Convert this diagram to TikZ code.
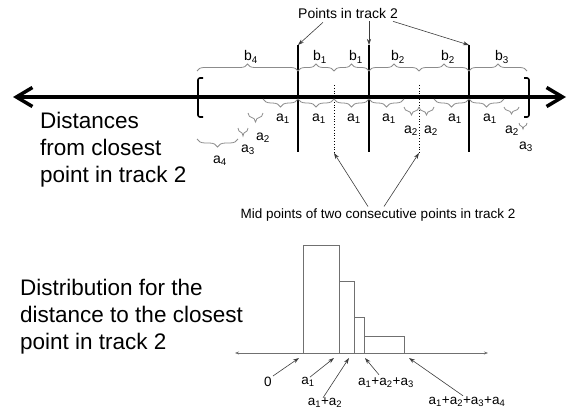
\documentclass[tikz,border=0pt]{standalone}
\usepackage{fontspec}
\setmainfont{Liberation Sans}
\usetikzlibrary{arrows.meta,calc,decorations.pathreplacing}
\definecolor{ink}{HTML}{000000}
\definecolor{bracegray}{HTML}{8C8C8C}
\definecolor{arrgray}{HTML}{3C3C3C}
\definecolor{histgray}{HTML}{707070}
\tikzset{
  bigtext/.style={font=\fontsize{22.5}{27}\selectfont,align=left,anchor=base west,
                  inner sep=0pt,text=ink},
  lbl/.style={font=\fontsize{14}{16}\selectfont,inner sep=1pt,text=ink},
  note/.style={font=\fontsize{13.5}{15}\selectfont,inner sep=1pt,text=ink},
  upbrc/.style={decorate,decoration={brace,amplitude=#1},draw=bracegray,
                line width=0.8pt},
  upbrc/.default=7pt,
  dnbrc/.style={decorate,decoration={brace,mirror,amplitude=#1},draw=bracegray,
                line width=0.8pt},
  dnbrc/.default=8pt,
  bracket/.style={draw=ink,line width=1.6pt,rounded corners=2pt},
  mainaxis/.style={{Straight Barb[length=16pt,width=19pt]}-{Straight Barb[length=16pt,width=19pt]},
                   line width=3.5pt,draw=ink},
  trackline/.style={draw=ink,line width=1.2pt},
  midline/.style={draw=ink,line width=0.8pt,dotted},
  ptarr/.style={-{Stealth[length=6pt,width=4pt]},line width=0.6pt,draw=arrgray},
  histline/.style={draw=histgray,line width=0.8pt},
  histaxis/.style={{Stealth[length=4pt,width=3pt]}-{Stealth[length=4pt,width=3pt]},
                   line width=0.7pt,draw=histgray}
}

\begin{document}
\begin{tikzpicture}[x=1pt,y=-1pt]
    \useasboundingbox (0,0) rectangle (568,415);

    % main line
    \coordinate (mL) at (13,97);
    \coordinate (mR) at (566,97);
    \draw[mainaxis] (mL) -- (mR);

    % points in track 2 and mid points
    \coordinate (p1t) at (298,45);  \coordinate (p1b) at (298,152);
    \coordinate (p2t) at (369,45);  \coordinate (p2b) at (369,152);
    \coordinate (p3t) at (469,45);  \coordinate (p3b) at (469,152);
    \coordinate (m1t) at (334,85);  \coordinate (m1b) at (334,153);
    \coordinate (m2t) at (419,85);  \coordinate (m2b) at (419,153);
    \draw[trackline] (p1t) -- (p1b);
    \draw[trackline] (p2t) -- (p2b);
    \draw[trackline] (p3t) -- (p3b);
    \draw[midline] (m1t) -- (m1b);
    \draw[midline] (m2t) -- (m2b);

    \draw[bracket] (203,78) -- (198,78) -- (198,117) -- (203,117);
    \draw[bracket] (524,78) -- (529,78) -- (529,117) -- (524,117);

    % upper braces
    \draw[upbrc] (197,71) -- (298,71);
    \draw[upbrc] (298,71) -- (334,71);
    \draw[upbrc] (334,71) -- (369,71);
    \draw[upbrc] (369,71) -- (419,71);
    \draw[upbrc] (419,71) -- (469,71);
    \draw[upbrc] (469,71) -- (527,71);
    \node[lbl] (b4) at (251,57) {b\textsubscript{4}};
    \node[lbl] (b1l) at (320,57) {b\textsubscript{1}};
    \node[lbl] (b1r) at (356,57) {b\textsubscript{1}};
    \node[lbl] (b2l) at (398,57) {b\textsubscript{2}};
    \node[lbl] (b2r) at (448,57) {b\textsubscript{2}};
    \node[lbl] (b3) at (502,57) {b\textsubscript{3}};

    % lower braces
    \draw[dnbrc] (263,99) -- (298,99);
    \draw[dnbrc] (298,99) -- (334,99);
    \draw[dnbrc] (334,99) -- (369,99);
    \draw[dnbrc] (369,99) -- (404,99);
    \draw[dnbrc] (404,107) -- (419,107);
    \draw[dnbrc] (419,107) -- (434,107);
    \draw[dnbrc] (434,99) -- (469,99);
    \draw[dnbrc] (469,99) -- (504,99);
    \draw[dnbrc=7pt] (504,107) -- (519,107);
    \draw[dnbrc=6pt] (519,123) -- (527,123);
    \draw[dnbrc=9pt] (248,113) -- (263,113);
    \draw[dnbrc] (238,128) -- (248,128);
    \draw[dnbrc] (197,139) -- (238,139);
    \node[lbl] (a1a) at (283,119) {a\textsubscript{1}};
    \node[lbl] (a1b) at (319,119) {a\textsubscript{1}};
    \node[lbl] (a1c) at (354,119) {a\textsubscript{1}};
    \node[lbl] (a1d) at (389,119) {a\textsubscript{1}};
    \node[lbl] (a2a) at (411,131) {a\textsubscript{2}};
    \node[lbl] (a2b) at (431,131) {a\textsubscript{2}};
    \node[lbl] (a1e) at (455,119) {a\textsubscript{1}};
    \node[lbl] (a1f) at (490,119) {a\textsubscript{1}};
    \node[lbl] (a2c) at (512,131) {a\textsubscript{2}};
    \node[lbl] (a3r) at (526,147) {a\textsubscript{3}};
    \node[lbl] (a2l) at (263,138) {a\textsubscript{2}};
    \node[lbl] (a3l) at (248,150) {a\textsubscript{3}};
    \node[lbl] (a4l) at (220,161) {a\textsubscript{4}};

    % labels with arrows
    \node[lbl] (ptlbl) at (348,13) {Points in track 2};
    \draw[ptarr] ($(ptlbl.south)+(-25,3)$) -- (p1t);
    \draw[ptarr] ($(ptlbl.south)+(21,2)$) -- (p2t);
    \draw[ptarr] ($(ptlbl.south)+(45,2)$) -- (p3t);
    \node[note] (midlbl) at (378,215) {Mid points of two consecutive points in track 2};
    \draw[ptarr] ($(midlbl.north)+(-10,-1)$) -- (m1b);
    \draw[ptarr] ($(midlbl.north)+(6,-1)$) -- (m2b);

    \node[bigtext] (dist) at (40,182) {Distances\\from closest\\point in track 2};

    % distribution
    \node[bigtext] (distr) at (20,349) {Distribution for the\\distance to the closest\\point in track 2};
    \coordinate (hL) at (235,353);
    \coordinate (hR) at (488,353);
    \draw[histaxis] (hL) -- (hR);
    \draw[histline] (303,353) rectangle (339,245);
    \draw[histline] (339,353) rectangle (354,281);
    \draw[histline] (354,353) rectangle (364,317);
    \draw[histline] (364,353) rectangle (404,336);

    \coordinate (x0) at (299,358);
    \coordinate (x1) at (334,358);
    \coordinate (x2) at (349,358);
    \coordinate (x3) at (365,358);
    \coordinate (x4) at (409,358);
    \node[note] (h0) at (268,382) {0};
    \node[note] (ha1) at (308,382) {a\textsubscript{1}};
    \node[note] (ha12) at (325,403) {a\textsubscript{1}+a\textsubscript{2}};
    \node[note] (ha123) at (386,383) {a\textsubscript{1}+a\textsubscript{2}+a\textsubscript{3}};
    \node[note] (ha1234) at (467,402) {a\textsubscript{1}+a\textsubscript{2}+a\textsubscript{3}+a\textsubscript{4}};
    \draw[ptarr] (h0.north east) -- (x0);
    \draw[ptarr] ($(ha1.north)+(2,1)$) -- (x1);
    \draw[ptarr] ($(ha12.north)+(-2,1)$) -- (x2);
    \draw[ptarr] ($(ha123.north)+(-7,-2)$) -- (x3);
    \draw[ptarr] ($(ha1234.north)+(-4,0)$) -- (x4);
  \end{tikzpicture}
\end{document}
